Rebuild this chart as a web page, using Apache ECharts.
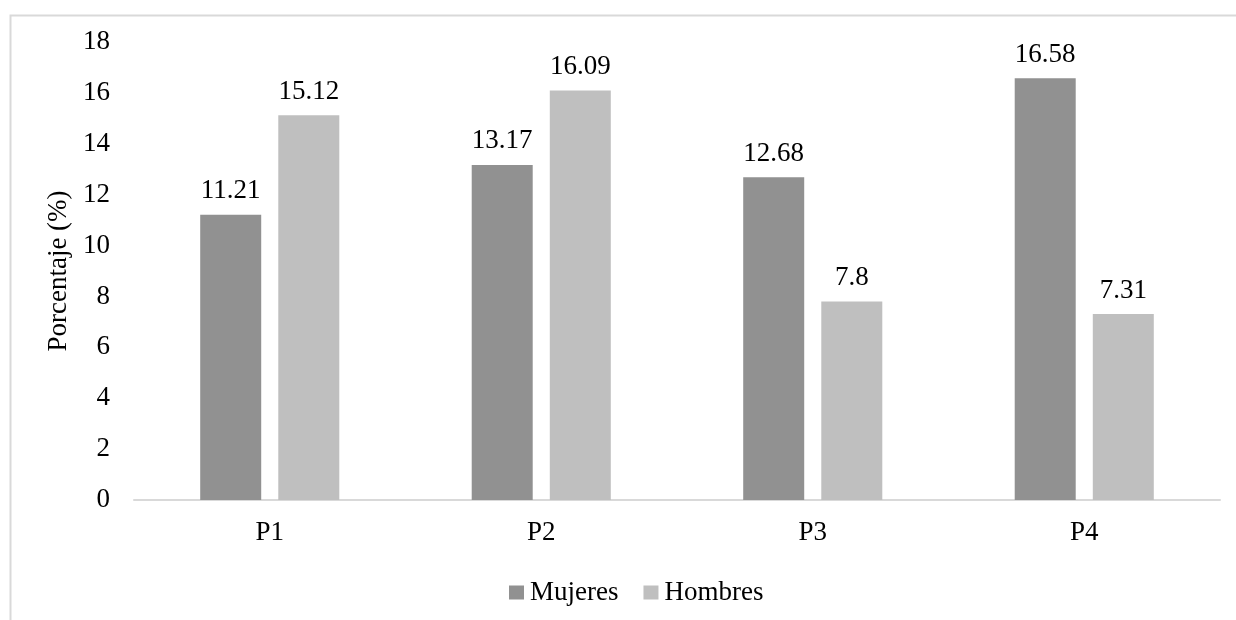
<!DOCTYPE html>
<html>
<head>
<meta charset="utf-8">
<script src="https://cdn.jsdelivr.net/npm/echarts@6/dist/echarts.min.js"></script>
<style>html,body{margin:0;padding:0;background:#fff;}#c{width:1236px;height:620px;}</style>
</head>
<body>
<div id="c"></div>
<script>
const categories = ['P1', 'P2', 'P3', 'P4'];
const mujeres = [11.21, 13.17, 12.68, 16.58];
const hombres = [15.12, 16.09, 7.8, 7.31];
const yTicks = {min: 0, max: 18, interval: 2};

const font = '"Liberation Serif", "Times New Roman", serif';
const fs = 27;
const chart = echarts.init(document.getElementById('c'));
chart.setOption({
  animation: false,
  textStyle: {fontFamily: font},
  graphic: [{
    type: 'rect', left: 8, top: 13,
    shape: {width: 1300, height: 700},
    style: {fill: 'none', stroke: '#d9d9d9', lineWidth: 2},
    z: -1
  }],
  grid: {left: 134, right: 16, top: 42, bottom: 120},
  legend: {
    left: 504, top: 574,
    itemWidth: 15, itemHeight: 14, itemGap: 25,
    icon: 'rect',
    textStyle: {fontFamily: font, fontSize: fs, color: '#000', padding: [0, 0, 0, 1]},
    data: ['Mujeres', 'Hombres']
  },
  xAxis: {
    type: 'category', data: categories,
    axisLine: {lineStyle: {color: '#d9d9d9', width: 2}},
    axisTick: {show: false},
    axisLabel: {fontFamily: font, fontSize: fs, color: '#000', margin: 19}
  },
  yAxis: {
    type: 'value', min: yTicks.min, max: yTicks.max, interval: yTicks.interval,
    name: 'Porcentaje (%)', nameLocation: 'middle', nameGap: 60,
    nameTextStyle: {fontFamily: font, fontSize: fs, color: '#000'},
    axisLine: {show: false}, axisTick: {show: false},
    splitLine: {show: false},
    axisLabel: {fontFamily: font, fontSize: fs, color: '#000', margin: 24}
  },
  series: [
    {name: 'Mujeres', type: 'bar', data: mujeres, barWidth: 61, barGap: '28%',
     itemStyle: {color: '#919191'},
     label: {show: true, position: 'top', distance: 10, fontFamily: font, fontSize: fs, color: '#000'}},
    {name: 'Hombres', type: 'bar', data: hombres, barWidth: 61,
     itemStyle: {color: '#bfbfbf'},
     label: {show: true, position: 'top', distance: 10, fontFamily: font, fontSize: fs, color: '#000'}}
  ]
});
</script>
</body>
</html>
